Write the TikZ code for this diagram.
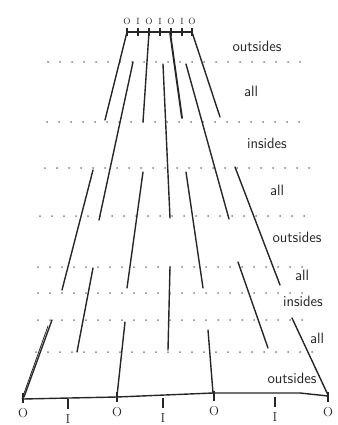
\documentclass[tikz,border=0pt]{standalone}
\usepackage{amsmath}

\begin{document}
\begin{tikzpicture}[
    x=1pt, y=-1pt,
    every node/.style={font=\sffamily},
    stroke/.style={line width=1.4pt, black!85, line cap=round},
    tickmark/.style={line width=1.1pt, black!85},
    dotrow/.style={line width=2pt, black!50, line cap=round, dash pattern=on 0pt off 12pt},
    bandlab/.style={font=\sffamily\fontsize{15}{15}\selectfont, text=black!85},
    toplab/.style={font=\rmfamily\fontsize{9}{9}\selectfont, text=black!85},
    botlab/.style={font=\rmfamily\fontsize{13}{13}\selectfont, text=black!85},
]
\useasboundingbox (0,0) rectangle (337,425);

% Parameters
\def\ytop{32}

% === Dotted band boundaries ===
\foreach \y/\xa/\xb in {62/48/300, 122/47/310, 168/45/310, 216/40/310,
                        267/38/310, 293/38/312, 320/38/312, 352/36/318} {
    \draw[dotrow] (\xa,\y) -- (\xb,\y);
}

% === Top scale (short) ===
\draw[stroke] (127,\ytop) -- (192,\ytop);
\foreach \x/\t [count=\i] in {127/O,138/I,149/O,160/I,171/O,182/I,192/O} {
    \draw[tickmark] (\x,\ytop-4) -- (\x,\ytop+4);
    \node[toplab] (top\i) at (\x,21) {\t};
}

% === Bottom scale (wide) ===
\draw[stroke] (23,399) -- (117,397) -- (213,393) -- (300,393) -- (328,396);
\foreach \x/\y/\t [count=\i] in {23/413/O,68/419/I,117/412/O,163/418/I,
                                 214/411/O,275/417/I,328/412/O} {
    \draw[tickmark] (\x,\y-20) -- (\x,\y-10);
    \node[botlab] (bot\i) at (\x,\y) {\t};
}

% === Outside strokes (O positions) ===
% top run: outsides + all
\draw[stroke] (127,\ytop) -- (105,120);
\draw[stroke] (149,\ytop) -- (143,122);
\draw[stroke, line width=1.9pt] (170,\ytop) -- (182,118);
\draw[stroke] (192,\ytop) -- (220,117);
% middle run: all + outsides + all
\draw[stroke] (93,170) -- (62,290);
\draw[stroke] (143,172) -- (127,288);
\draw[stroke] (186,172) -- (203,288);
\draw[stroke] (235,167) -- (280,285);
% bottom run: all + outsides
\draw[stroke] (52,320) -- (24,397);
\draw[stroke, line width=0.8pt] (48,326) -- (22,399);
\draw[stroke] (125,322) -- (117,396);
\draw[stroke] (208,330) -- (213,393);
\draw[stroke] (292,318) -- (328,395);

% === Inside strokes (I positions) ===
% upper run: all + insides + all
\draw[stroke] (133,62) -- (99,220);
\draw[stroke] (163,64) -- (170,218);
\draw[stroke] (186,64) -- (229,219);
% lower run: all + insides + all
\draw[stroke] (93,268) -- (77,352);
\draw[stroke] (170,267) -- (168,350);
\draw[stroke] (238,262) -- (268,348);

% === Band labels ===
\foreach \x/\y/\t [count=\i] in {257/46/outsides, 251/91/all, 267/143/insides,
                                 277/190/all, 297/237/outsides, 302/275/all,
                                 303/301/insides, 317/338/all, 292/378/outsides} {
    \node[bandlab] (band\i) at (\x,\y) {\t};
}

\end{tikzpicture}
\end{document}
